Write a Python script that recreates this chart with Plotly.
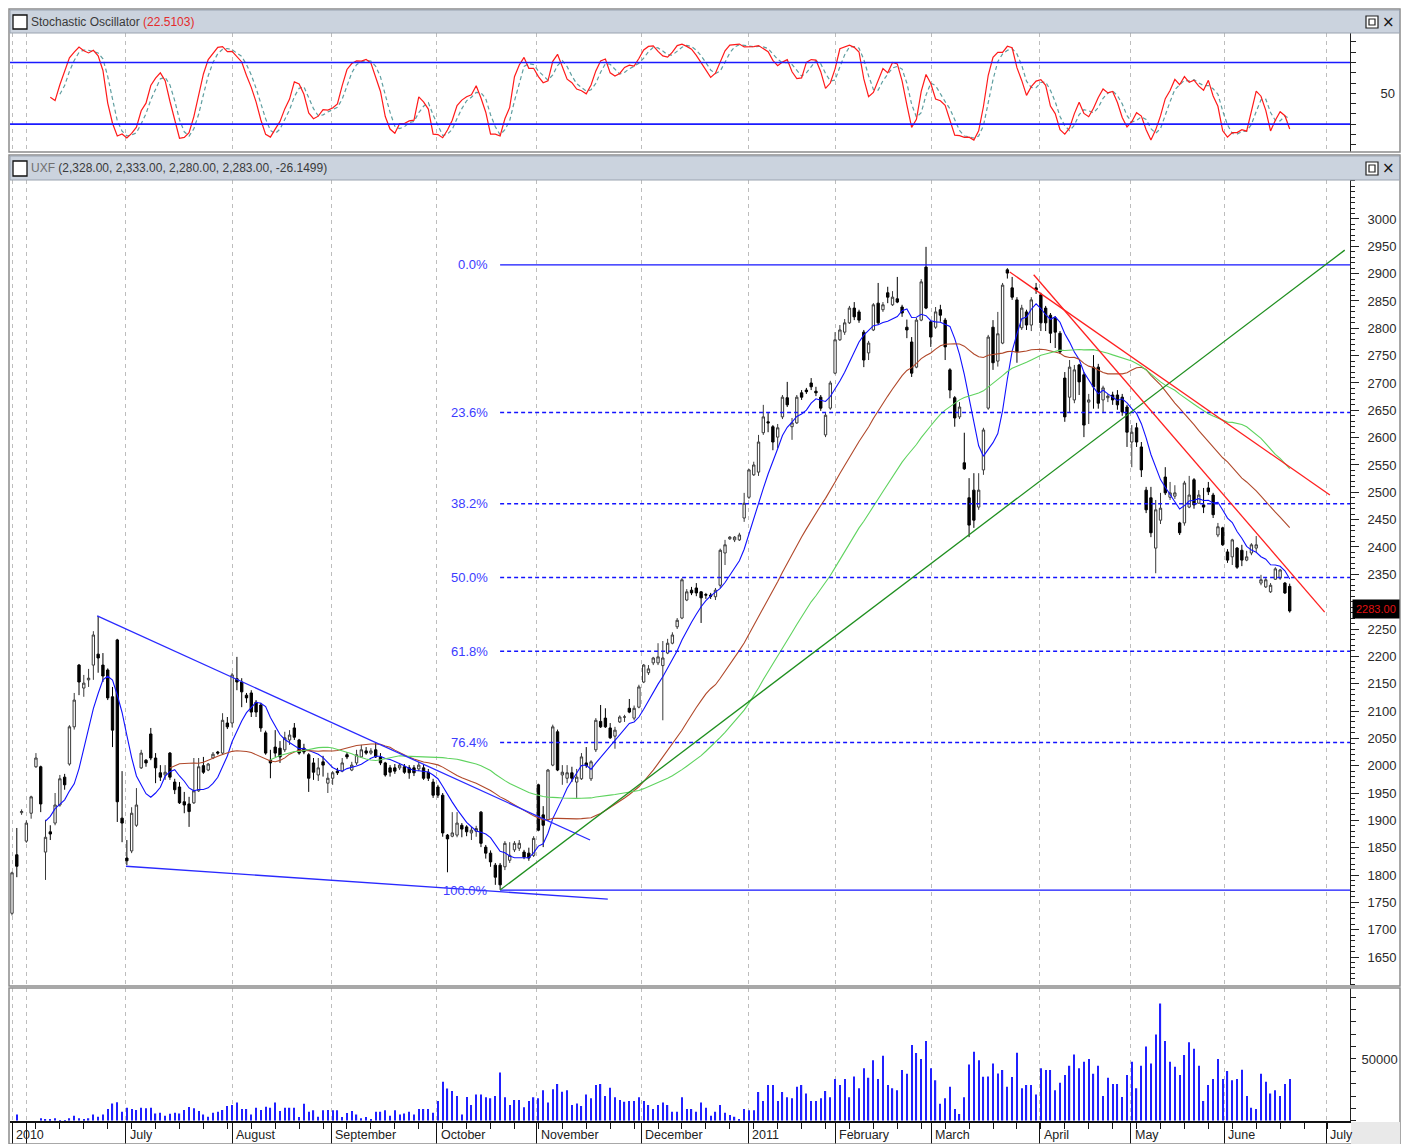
import numpy as np
import pandas as pd
import plotly.graph_objects as go

# ---------------- data ----------------
OPEN = [
1730,1837,1914,1862,1913,1998,1998,1842,1879,1895,
1928,1979,2003,2071,2184,2142,2157,2184,2204,2184,
2175,2126,2230,1904,1831,1844,1891,1996,2010,2058,
2014,1987,1983,2023,1970,1961,1934,1930,1932,1954,
2000,1992,2014,2025,2023,2078,
2078,2159,2153,2129,2133,2116,2111,2060,2010,2034,
2032,2029,2047,2069,2047,2032,2020,2005,1983,2007,
1968,1977,1990,1990,2020,1992,2005,2016,2027,2023,
2029,2016,2005,1996,1996,1996,1998,1996,1996,1994,
1996,1988,1970,1961,1946,1873,
1871,1873,1891,1888,1877,1880,1915,1851,1840,1818,
1818,1815,1827,1846,1849,1842,1840,1836,1965,1910,
1901,2001,2062,1983,1977,1987,1970,1976,2005,1976,
2029,2081,2087,2069,2054,2080,2089,2105,2087,2107,
2153,2170,2188,2188,2183,
2206,2224,2254,2270,2303,2321,2325,2318,2313,2312,
2309,2330,2389,2415,2413,2413,2453,2491,2532,2537,
2609,2629,2620,2601,2638,2673,2620,2627,2682,2687,
2700,2685,2674,2605,2654,2718,2779,2793,2810,2837,
2830,2793,2755,2797,2846,2834,
2865,2843,2854,2839,2802,2775,2729,2815,2912,2812,
2802,2834,2815,2724,2673,2638,2554,2490,2504,2473,
2541,2654,2802,2740,2773,2907,2874,2852,2801,2830,
2806,2874,2861,2837,2824,2819,2791,2709,2674,2669,
2733,2715,2665,2729,2729,2669,
2673,2678,2678,2674,2656,2592,2618,2583,2504,2490,
2398,2449,2528,2491,2493,2444,2444,2473,2523,2480,
2477,2508,2495,2422,2435,2391,2382,2398,2394,2376,
2389,2398,2334,2327,2318,2341,2343,2334,2328,
]
HIGH = [
1806,1886,1920,1900,1945,2023,2000,1901,1891,1950,
1983,1985,2074,2133,2186,2166,2177,2246,2274,2206,
2178,2144,2232,1990,1864,1924,1959,2029,2012,2069,
2023,2001,2001,2025,1976,1970,1952,1943,2014,2014,
2016,2005,2025,2027,2096,2089,
2170,2199,2160,2133,2138,2120,2115,2064,2029,2065,
2045,2062,2065,2078,2049,2040,2023,2014,2014,2018,
1987,1990,1996,2014,2025,2007,2029,2038,2034,2032,
2043,2023,2007,2001,2003,2005,2003,2001,2001,2007,
2003,1994,1976,1965,1950,1875,
1915,1915,1895,1891,1888,1890,1917,1855,1845,1822,
1822,1862,1860,1862,1864,1846,1850,1871,1967,1926,
1994,2075,2066,2001,2001,1998,1994,2023,2034,2010,
2087,2111,2105,2078,2071,2092,2093,2122,2110,2148,
2186,2184,2199,2224,2228,
2232,2244,2270,2343,2323,2327,2334,2319,2316,2316,
2325,2397,2413,2420,2420,2426,2499,2543,2556,2605,
2660,2645,2623,2625,2678,2702,2636,2678,2687,2691,
2709,2693,2678,2645,2704,2793,2806,2817,2841,2848,
2834,2797,2777,2846,2883,2848,
2876,2868,2894,2843,2816,2784,2819,2890,2949,2815,
2839,2843,2819,2727,2676,2665,2609,2526,2535,2535,
2618,2788,2815,2830,2883,2910,2894,2857,2843,2834,
2857,2883,2865,2841,2828,2822,2795,2720,2742,2733,
2735,2720,2680,2751,2735,2695,
2680,2684,2687,2680,2660,2623,2627,2592,2510,2510,
2486,2499,2546,2519,2513,2446,2521,2530,2526,2504,
2508,2519,2499,2444,2437,2396,2415,2400,2404,2393,
2407,2420,2349,2343,2334,2363,2360,2336,2333,
]
LOW = [
1726,1796,1910,1859,1903,1996,1915,1791,1864,1891,
1925,1956,2000,2066,2129,2126,2144,2157,2170,2153,
2120,2034,1897,1860,1818,1840,1888,1994,1998,2010,
1968,1972,1974,1974,1948,1930,1913,1888,1930,1952,
1985,1990,2012,2020,2020,2067,
2070,2138,2107,2115,2089,2089,2062,2020,1977,2016,
2005,2025,2038,2047,2020,2021,1952,1974,1972,1980,
1950,1965,1983,1988,2012,1990,2001,2014,2020,2020,
2014,2001,1980,1980,1985,1992,1985,1976,1981,1990,
1974,1972,1941,1941,1870,1805,
1869,1869,1869,1871,1864,1870,1851,1830,1815,1782,
1773,1809,1822,1842,1844,1829,1826,1833,1880,1851,
1899,1999,1990,1965,1968,1970,1941,1974,1996,1972,
2025,2069,2069,2049,2031,2078,2080,2096,2083,2105,
2151,2166,2184,2184,2083,
2204,2222,2250,2268,2301,2312,2310,2261,2305,2305,
2303,2325,2367,2413,2409,2411,2446,2488,2530,2530,
2605,2610,2577,2581,2634,2656,2596,2625,2669,2680,
2687,2676,2649,2601,2651,2716,2777,2788,2808,2815,
2810,2729,2742,2795,2806,2830,
2846,2841,2846,2821,2782,2711,2727,2813,2835,2766,
2799,2812,2742,2672,2620,2634,2541,2418,2435,2468,
2532,2651,2724,2730,2771,2891,2852,2737,2797,2797,
2795,2863,2795,2795,2773,2764,2753,2629,2647,2663,
2678,2601,2625,2653,2653,2647,
2665,2660,2651,2640,2583,2546,2583,2528,2462,2418,
2352,2442,2495,2486,2488,2422,2439,2471,2470,2480,
2462,2495,2453,2418,2402,2371,2367,2360,2365,2374,
2385,2391,2330,2325,2316,2340,2340,2314,2280,
]
CLOSE = [
1804,1816,1916,1895,1943,2014,1930,1869,1875,1928,
1976,1965,2071,2120,2153,2151,2160,2239,2197,2164,
2124,2065,1934,1895,1826,1913,1928,2023,2005,2014,
1996,1979,1988,1979,1956,1932,1928,1916,1954,1998,
1988,2003,2021,2023,2083,2071,
2166,2153,2135,2124,2098,2098,2069,2023,2005,2023,
2016,2051,2056,2052,2023,2025,1977,1988,1996,2001,
1977,1987,1987,2005,2016,2001,2020,2029,2023,2027,
2016,2005,1983,1988,1990,2001,1988,1987,1987,2001,
1977,1977,1946,1946,1877,1866,
1877,1895,1884,1879,1882,1885,1858,1840,1824,1796,
1782,1858,1836,1858,1858,1833,1831,1867,1882,1891,
1992,2071,1992,1988,1987,1977,1979,2016,2000,2007,
2083,2071,2071,2051,2065,2089,2089,2098,2105,2144,
2184,2177,2197,2199,2197,
2224,2239,2266,2340,2318,2316,2316,2307,2312,2310,
2321,2394,2404,2418,2418,2422,2480,2541,2550,2592,
2638,2627,2592,2618,2674,2660,2627,2674,2674,2684,
2693,2682,2654,2641,2700,2779,2797,2810,2837,2821,
2815,2742,2773,2843,2810,2843,
2857,2857,2848,2828,2797,2718,2815,2885,2837,2784,
2830,2824,2766,2687,2636,2656,2543,2440,2449,2504,
2614,2784,2737,2790,2879,2901,2857,2757,2837,2806,
2852,2870,2810,2810,2791,2793,2757,2638,2729,2724,
2702,2623,2669,2693,2663,2691,
2676,2669,2660,2647,2610,2610,2592,2541,2468,2426,
2468,2471,2499,2499,2499,2426,2517,2495,2477,2495,
2473,2501,2459,2437,2404,2376,2413,2363,2376,2382,
2404,2404,2340,2340,2330,2360,2358,2316,2283,
]
VOLUME = [
0,5100,0,0,0,0,1900,1100,1100,1900,300,500,1900,4000,1900,1400,1900,5100,3200,5100,9500,14000,15000,
7300,10500,9500,8600,10500,10000,10500,5900,6500,4000,5700,6500,5900,8600,11000,10000,7800,5100,3200,6500,7300,8600,11900,
12700,14800,9500,9500,5100,10500,8600,11300,10500,14800,7800,10500,10500,10500,3000,13800,7300,8400,3200,8400,
8600,8400,8400,3000,6200,7800,5100,1900,3000,1400,7300,7300,8400,4000,8400,5100,5900,7300,5100,9500,9500,9500,
6500,15900,31600,26000,24000,20000,5100,19200,12700,21300,21300,18900,18100,20000,39000,18900,12700,16700,16700,10800,15900,
18900,18100,24600,14800,25400,29700,23500,24600,12700,14000,11900,21300,18100,28900,29700,20000,26700,18900,16700,15400,15900,15900,
18900,15900,12700,9500,12700,14800,12700,7300,7300,18900,9500,9500,7300,14800,10500,4000,7300,12700,6500,4600,3200,800,
9500,8400,8400,23200,15900,28900,28900,15900,23200,18900,18100,27500,28900,22100,15900,15900,18100,24000,18900,
33800,28900,33800,18900,35900,26200,42400,34800,48900,33800,52700,28900,26200,24600,41000,38100,61300,54800,50000,
64500,42400,32700,13800,18100,27500,9500,5400,18900,45600,55900,48900,35600,35900,46400,38300,41000,27500,35400,55100,26200,28900,
28900,21300,42400,41000,41000,24600,30800,37000,44600,53700,42400,47800,50000,38100,44600,20000,34800,29700,29700,
19200,37000,47800,26200,44600,60200,46400,69900,95000,64500,47800,43700,37000,53200,63500,58300,44600,15900,28900,
33800,50000,33800,40200,32700,33800,41300,20000,10500,9500,38100,31600,22100,24600,20000,29700,33800,
]

# month boundaries (bar index) and their labels
MONTH_POS = [0, 3, 23.8, 46, 66.7, 88.8, 109.7, 131.6, 153.8, 172, 192.2, 214.8, 233.8, 253.3, 274.6]
MONTH_LABELS = ["2010", "", "July", "August", "September", "October", "November",
                "December", "2011", "February", "March", "April", "May", "June", "July"]

MA_PERIODS = [8, 34, 55]
STOCH_K, STOCH_SLOW, STOCH_D = 7, 3, 3
STOCH_LEVELS = [20, 80]
STOCH_VALUE_TEXT = "22.5103"
CHANGE_TEXT = "-26.1499"

FIB_LOW, FIB_HIGH = 1772.5, 2916.0
FIB_START = 102
FIB_RATIOS = [0.0, 0.236, 0.382, 0.5, 0.618, 0.764, 1.0]

# trend lines: (bar index, price) anchor pairs
TL_BLUE_UPPER = [(17.8, 2274), (120.8, 1864)]
TL_BLUE_LOWER = [(23.8, 1816), (124.5, 1756)]
TL_GREEN = [(102.0, 1772.5), (278.5, 2943)]
TL_RED_1 = [(208.5, 2903), (275.4, 2495)]
TL_RED_2 = [(213.5, 2898), (274.3, 2281)]

PRICE_TICKS = list(range(1650, 3001, 50))
PRICE_HIDDEN = [2300]          # label covered by the last-price tag
VOL_TICKS = list(range(0, 100001, 10000))
STOCH_TICKS = list(range(0, 101, 10))

# ---------------- geometry helpers ----------------
W, H = 1411, 1144
def PX(x): return x / W
def PY(y): return 1 - y / H

N = len(CLOSE)
idx = list(range(N))
XR = [-0.42, 279.6]
X_DOM = [PX(10), PX(1350)]

c = pd.Series(CLOSE, dtype=float)
h = pd.Series(HIGH, dtype=float)
l = pd.Series(LOW, dtype=float)
hh = h.rolling(STOCH_K).max()
ll = l.rolling(STOCH_K).min()
raw = 100 * (c - ll) / (hh - ll)
k_slow = raw.rolling(STOCH_SLOW).mean()
d_line = k_slow.rolling(STOCH_D).mean()

fig = go.Figure()

# stochastic
fig.add_trace(go.Scatter(x=idx, y=d_line, mode="lines", xaxis="x", yaxis="y",
                         line=dict(color="#5f9ea0", width=1.2, dash="4px,3px"), showlegend=False))
fig.add_trace(go.Scatter(x=idx, y=k_slow, mode="lines", xaxis="x", yaxis="y",
                         line=dict(color="#ff1a1a", width=1.2), showlegend=False))

# moving averages
ma_colors = ["#1010ff", "#b0482a", "#5fd35f"]
for p, col in zip(MA_PERIODS, ma_colors):
    fig.add_trace(go.Scatter(x=idx, y=c.rolling(p).mean(), mode="lines", xaxis="x2", yaxis="y2",
                             line=dict(color=col, width=1.1), showlegend=False))

# fibonacci levels
fib_col = "#1414ff"
for r in FIB_RATIOS:
    lvl = FIB_HIGH - r * (FIB_HIGH - FIB_LOW)
    solid = r in (0.0, 1.0)
    fig.add_trace(go.Scatter(x=[FIB_START, XR[1]], y=[lvl, lvl], mode="lines", xaxis="x2", yaxis="y2",
                             line=dict(color=fib_col, width=1.3 if solid else 1.6,
                                       dash="solid" if solid else "4px,3px"), showlegend=False))

# trend lines
for pts, col in [(TL_BLUE_UPPER, "#2a2aff"), (TL_BLUE_LOWER, "#2a2aff"),
                 (TL_GREEN, "#1f8f1f"), (TL_RED_1, "#ff2020"), (TL_RED_2, "#ff2020")]:
    fig.add_trace(go.Scatter(x=[p[0] for p in pts], y=[p[1] for p in pts], mode="lines",
                             xaxis="x2", yaxis="y2", line=dict(color=col, width=1.3), showlegend=False))

# candles
fig.add_trace(go.Candlestick(x=idx, open=OPEN, high=HIGH, low=LOW, close=CLOSE, xaxis="x2", yaxis="y2",
                             increasing=dict(line=dict(color="#3a3a3a", width=1), fillcolor="white"),
                             decreasing=dict(line=dict(color="black", width=1), fillcolor="black"),
                             whiskerwidth=0, showlegend=False, hoverinfo="skip"))

# volume
fig.add_trace(go.Bar(x=idx, y=VOLUME, xaxis="x3", yaxis="y3", width=0.26,
                     marker=dict(color="#2020ff", line=dict(width=0)), showlegend=False))

grid = dict(showgrid=True, gridcolor="#bdbdbd", griddash="4px,4px", gridwidth=1,
            tickmode="array", tickvals=MONTH_POS, range=XR, domain=X_DOM, zeroline=False)
axis_font = dict(family="Liberation Sans, Arial, sans-serif", size=13, color="#2a2a2a")

fig.update_layout(
    width=W, height=H, margin=dict(l=0, r=0, t=0, b=0),
    paper_bgcolor="white", plot_bgcolor="white", showlegend=False, hovermode=False,
    xaxis=dict(**grid, anchor="y", showticklabels=False, ticks=""),
    yaxis=dict(domain=[PY(152), PY(33)], range=[-7.1, 108.7], side="right", anchor="x",
               tickmode="array", tickvals=STOCH_TICKS,
               ticktext=["50" if v == 50 else "" for v in STOCH_TICKS],
               ticks="outside", ticklen=5, tickcolor="#222", showgrid=False, zeroline=False,
               showline=True, linecolor="#222", linewidth=1, tickfont=axis_font, ticklabelstandoff=22),
    xaxis2=dict(**grid, anchor="y2", showticklabels=False, ticks="", rangeslider=dict(visible=False)),
    yaxis2=dict(domain=[PY(985), PY(180)], range=[1598.8, 3071.3], side="right", anchor="x2",
                tickmode="array", tickvals=PRICE_TICKS,
                ticktext=["" if v in PRICE_HIDDEN else str(v) for v in PRICE_TICKS],
                ticks="outside", ticklen=8, tickcolor="#222",
                minor=dict(dtick=10, tick0=0, ticklen=4, ticks="outside", tickcolor="#222"),
                showgrid=False, zeroline=False, showline=True, linecolor="#222", linewidth=1,
                tickfont=axis_font, ticklabelstandoff=6),
    xaxis3=dict(**grid, anchor="y3", showticklabels=False, ticks="outside", ticklen=24,
                tickcolor="#111", tickwidth=1, showline=True, linecolor="#111", linewidth=1.5,
                minor=dict(dtick=5, tick0=0, ticklen=7, ticks="outside", tickcolor="#111")),
    yaxis3=dict(domain=[PY(1120.7), PY(988)], range=[0, 107500], side="right", anchor="x3",
                tickmode="array", tickvals=VOL_TICKS,
                ticktext=["50000" if v == 50000 else "" for v in VOL_TICKS],
                ticks="outside", ticklen=5, tickcolor="#222", showgrid=False, zeroline=False,
                showline=True, linecolor="#222", linewidth=1, tickfont=axis_font, ticklabelstandoff=3),
)

shapes = []
# panel frames
for (y0, y1) in [(9, 152), (155, 986), (988, 1144)]:
    shapes.append(dict(type="rect", xref="paper", yref="paper", x0=PX(9), x1=PX(1400),
                       y0=PY(y1), y1=PY(y0), line=dict(color="#8c8c8c", width=1.5), layer="above"))
# header bars
for (y0, y1) in [(10, 33), (156, 180)]:
    shapes.append(dict(type="rect", xref="paper", yref="paper", x0=PX(10), x1=PX(1399.5),
                       y0=PY(y1), y1=PY(y0), fillcolor="#cbd3de", line=dict(color="#9aa3b0", width=1),
                       layer="above"))
    shapes.append(dict(type="rect", xref="paper", yref="paper", x0=PX(13), x1=PX(27),
                       y0=PY(y1 - 4), y1=PY(y0 + 5), fillcolor="white", line=dict(color="#111", width=1.3),
                       layer="above"))
    shapes.append(dict(type="rect", xref="paper", yref="paper", x0=PX(1366), x1=PX(1378),
                       y0=PY(y1 - 5), y1=PY(y0 + 6), fillcolor="white", line=dict(color="#222", width=1.2),
                       layer="above"))
    shapes.append(dict(type="rect", xref="paper", yref="paper", x0=PX(1369), x1=PX(1375),
                       y0=PY(y1 - 8), y1=PY(y0 + 9), fillcolor="white", line=dict(color="#222", width=1.2),
                       layer="above"))
# stochastic reference levels
for lv in STOCH_LEVELS:
    shapes.append(dict(type="line", xref="x domain", yref="y", x0=0, x1=1, y0=lv, y1=lv,
                       line=dict(color="#1a1aff", width=1.6)))
# bottom-right corner
shapes.append(dict(type="rect", xref="paper", yref="paper", x0=PX(1351), x1=PX(1400),
                   y0=PY(1144), y1=PY(1122), fillcolor="#e9e9e9", line=dict(width=0)))
fig.update_layout(shapes=shapes)

hdr_font = dict(family="Liberation Sans, Arial, sans-serif", size=12, color="#3a3a3a")
ann = []
ann.append(dict(xref="paper", yref="paper", x=PX(29), y=PY(22), xanchor="left", yanchor="middle",
                showarrow=False, font=hdr_font,
                text=f'Stochastic Oscillator <span style="color:#e42b2b">({STOCH_VALUE_TEXT})</span>'))
ann.append(dict(xref="paper", yref="paper", x=PX(29), y=PY(168), xanchor="left", yanchor="middle",
                showarrow=False, font=hdr_font,
                text=f'<span style="color:#707070">UXF</span> ({OPEN[-1]:,.2f}, {HIGH[-1]:,.2f}, '
                     f'{LOW[-1]:,.2f}, {CLOSE[-1]:,.2f}, {CHANGE_TEXT})'))
for yy in (22, 168):
    ann.append(dict(xref="paper", yref="paper", x=PX(1388), y=PY(yy), xanchor="center", yanchor="middle",
                    showarrow=False, text="×", font=dict(family="DejaVu Sans", size=15, color="#111")))
# fib labels
for r in FIB_RATIOS:
    lvl = FIB_HIGH - r * (FIB_HIGH - FIB_LOW)
    ann.append(dict(xref="x2", yref="y2", x=FIB_START - 2.2, y=lvl, xanchor="right", yanchor="middle",
                    showarrow=False, text=f"{r*100:.1f}%",
                    font=dict(family="Liberation Sans, Arial, sans-serif", size=13, color="#3c3cff")))
# last price tag
ann.append(dict(xref="paper", yref="y2", x=PX(1352), y=CLOSE[-1] + 4, xanchor="left", yanchor="middle",
                showarrow=False, text=f"{CLOSE[-1]:.2f}", bgcolor="black", borderpad=3,
                font=dict(family="Liberation Sans, Arial, sans-serif", size=11, color="#e01010")))
# month labels
for pos, lab in zip(MONTH_POS, MONTH_LABELS):
    if lab:
        ann.append(dict(xref="x3", yref="paper", x=pos + 0.35, y=PY(1126), xanchor="left", yanchor="top",
                        showarrow=False, text=lab,
                        font=dict(family="Liberation Sans, Arial, sans-serif", size=12.5, color="#222")))
fig.update_layout(annotations=ann)

fig.write_html("out.html", config={"displayModeBar": False},
               post_script="document.body.style.margin='0';document.body.style.overflow='hidden';")
